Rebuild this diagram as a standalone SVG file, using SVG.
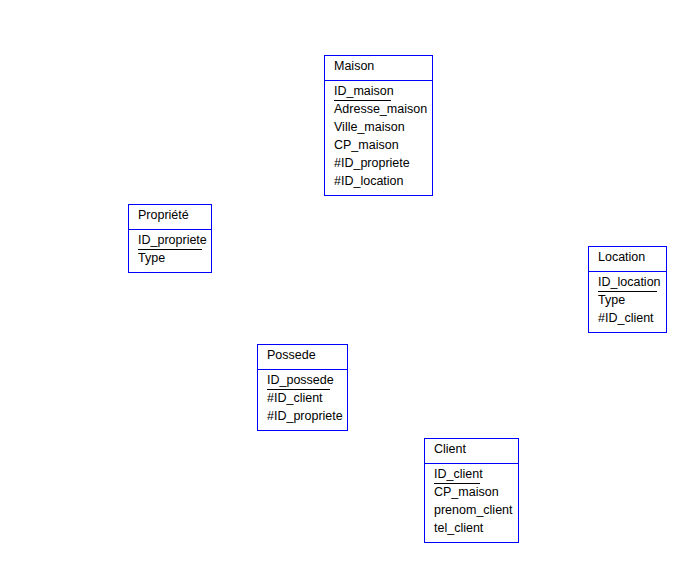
<svg xmlns="http://www.w3.org/2000/svg" width="696" height="572" viewBox="0 0 696 572">
<style>
.box{fill:#fff;stroke:#0000ff;stroke-width:1}
.div{stroke:#0000ff;stroke-width:1}
.ul{stroke:#000;stroke-width:1}
text{font-family:"Liberation Sans",Arial,sans-serif;font-size:12.5px;fill:#000}
</style>
<rect width="696" height="572" fill="#fff"/>
<g id="connectors"></g>
<g id="maison">
<rect class="box" x="324.5" y="55.5" width="108" height="140"/>
<line class="div" x1="324.5" y1="80.5" x2="432.5" y2="80.5"/>
<text x="334" y="70">Maison</text>
<text x="334" y="95">ID_maison</text>
<line class="ul" x1="334" y1="100.5" x2="391" y2="100.5"/>
<text x="334" y="113">Adresse_maison</text>
<text x="334" y="131">Ville_maison</text>
<text x="334" y="149">CP_maison</text>
<text x="334" y="167">#ID_propriete</text>
<text x="334" y="185">#ID_location</text>
</g>
<g id="propriete">
<rect class="box" x="128.5" y="204.5" width="83" height="68"/>
<line class="div" x1="128.5" y1="229.5" x2="211.5" y2="229.5"/>
<text x="138" y="219">Propriété</text>
<text x="138" y="244">ID_propriete</text>
<line class="ul" x1="138" y1="249.5" x2="202" y2="249.5"/>
<text x="138" y="262">Type</text>
</g>
<g id="location">
<rect class="box" x="588.5" y="246.5" width="78" height="86"/>
<line class="div" x1="588.5" y1="271.5" x2="666.5" y2="271.5"/>
<text x="598" y="261">Location</text>
<text x="598" y="286">ID_location</text>
<line class="ul" x1="598" y1="291.5" x2="657" y2="291.5"/>
<text x="598" y="304">Type</text>
<text x="598" y="322">#ID_client</text>
</g>
<g id="possede">
<rect class="box" x="257.5" y="344.5" width="90" height="86"/>
<line class="div" x1="257.5" y1="369.5" x2="347.5" y2="369.5"/>
<text x="267" y="359">Possede</text>
<text x="267" y="384">ID_possede</text>
<line class="ul" x1="267" y1="389.5" x2="330" y2="389.5"/>
<text x="267" y="402">#ID_client</text>
<text x="267" y="420">#ID_propriete</text>
</g>
<g id="client">
<rect class="box" x="424.5" y="438.5" width="94" height="104"/>
<line class="div" x1="424.5" y1="463.5" x2="518.5" y2="463.5"/>
<text x="434" y="453">Client</text>
<text x="434" y="478">ID_client</text>
<line class="ul" x1="434" y1="483.5" x2="480" y2="483.5"/>
<text x="434" y="496">CP_maison</text>
<text x="434" y="514">prenom_client</text>
<text x="434" y="532">tel_client</text>
</g>
</svg>
